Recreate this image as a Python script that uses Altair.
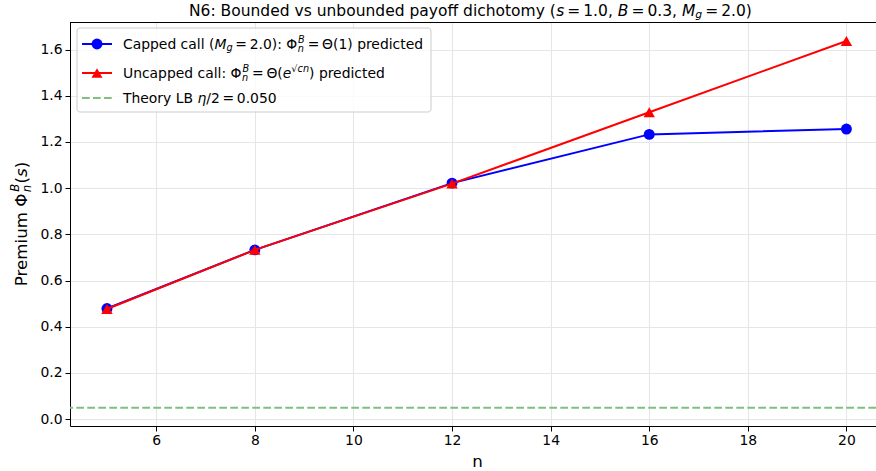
import altair as alt
import pandas as pd

# ---- data ----
n_values = [5, 8, 12, 16, 20]
capped_premium = [0.479, 0.733, 1.022, 1.233, 1.256]
uncapped_premium = [0.477, 0.733, 1.020, 1.329, 1.637]
theory_lb = [0.05]
x_ticks = [6, 8, 10, 12, 14, 16, 18, 20]
y_ticks = [0.0, 0.2, 0.4, 0.6, 0.8, 1.0, 1.2, 1.4, 1.6]

# rich-text pieces: (text, kind)   kind: rm, it, sub, sup, subsup, rel
title_parts = [
    ("N6: Bounded vs unbounded payoff dichotomy (", "rm"),
    ("s", "it"), ("=", "rel"), ("1.0", "rm"), (", ", "rm"),
    ("B", "it"), ("=", "rel"), ("0.3", "rm"), (", ", "rm"),
    ("M", "it"), ("g", "subit"), ("=", "rel"), ("2.0", "rm"), (")", "rm"),
]
legend_parts = [
    [("Capped call (", "rm"), ("M", "it"), ("g", "subit"), ("=", "rel"), ("2.0", "rm"),
     ("): Φ", "rm"), (("n", "B"), "subsup"), ("=", "rel"), ("Θ(1) predicted", "rm")],
    [("Uncapped call: Φ", "rm"), (("n", "B"), "subsup"), ("=", "rel"), ("Θ(", "rm"),
     ("e", "it"), ("√cn", "supit"), (") predicted", "rm")],
    [("Theory LB ", "rm"), ("η", "it"), ("/2", "rm"), ("=", "rel"), ("0.050", "rm")],
]
ylabel_parts = [("Premium Φ", "rm"), (("n", "B"), "subsup"), ("(", "rm"), ("s", "it"), (")", "rm")]

FONT = "DejaVu Sans"
W, H = 806, 404
BLUE, RED, GREEN = "#0000ff", "#ff0000", "#80bf80"

# DejaVu Sans advance widths (em)
EM = {
    " ": .318, "(": .390, ")": .390, ",": .318, ".": .318, "/": .337, ":": .337,
    "=": .838, "A": .684, "B": .686, "C": .698, "L": .557, "M": .863, "N": .748,
    "T": .611, "U": .732, "a": .613, "b": .635, "c": .550, "d": .635, "e": .615,
    "f": .352, "g": .635, "h": .634, "i": .278, "l": .278, "m": .974, "n": .634,
    "o": .612, "p": .635, "r": .411, "s": .521, "t": .392, "u": .634, "v": .592,
    "y": .592, "Φ": .820, "Θ": .787, "η": .634, "√": .636,
}
for d in "0123456789":
    EM[d] = .636


def tw(s):
    return sum(EM.get(c, .6) for c in s)


def layout(parts, size):
    """Return list of (text, advance_offset, baseline_shift, fontsize, italic) and total width."""
    out = []
    pos = 0.0
    sc = 0.7 * size
    for text, kind in parts:
        if kind == "rm":
            out.append((text, pos, 0.0, size, False)); pos += tw(text) * size
        elif kind == "it":
            out.append((text, pos, 0.0, size, True)); pos += tw(text) * size
        elif kind == "rel":
            pos += 0.195 * size
            out.append((text, pos, 0.0, size, False)); pos += tw(text) * size
            pos += 0.195 * size
        elif kind == "subit":
            out.append((text, pos, 0.16 * size, sc, True)); pos += tw(text) * sc
        elif kind == "supit":
            out.append((text, pos, -0.42 * size, sc, True)); pos += tw(text) * sc
        elif kind == "subsup":
            sub, sup = text
            out.append((sub, pos, 0.24 * size, sc, True))
            out.append((sup, pos + 0.03 * size, -0.45 * size, sc, True))
            pos += max(tw(sub), tw(sup)) * sc + 0.05 * size
    return out, pos


def rich_text(parts, size, x0, y0, vertical=False):
    pieces, total = layout(parts, size)
    layers = []
    for text, off, shift, fs, ital in pieces:
        kw = dict(align="left", baseline="alphabetic", font=FONT, fontSize=fs, color="black")
        if ital:
            kw["fontStyle"] = "italic"
        if vertical:
            kw["angle"] = 270
            xpos, ypos = x0 + shift, y0 - off
        else:
            xpos, ypos = x0 + off, y0 + shift
        layers.append(
            alt.Chart(pd.DataFrame({"t": [text]})).mark_text(**kw).encode(
                x=alt.value(xpos), y=alt.value(ypos), text="t:N"
            )
        )
    return layers, total


cap_df = pd.DataFrame({"n": n_values, "premium": capped_premium})
unc_df = pd.DataFrame({"n": n_values, "premium": uncapped_premium})
lb_df = pd.DataFrame({"premium": theory_lb})

xscale = alt.Scale(domain=[4.25, 20.6], nice=False, zero=False)
yscale = alt.Scale(domain=[-0.0295, 1.7195], nice=False, zero=False)

x_enc = alt.X(
    "n:Q", scale=xscale,
    axis=alt.Axis(values=x_ticks, format="d", title="n",
                  titleX=407, titleY=40, titleBaseline="alphabetic",
                  titleAlign="center", labelPadding=2),
)
y_enc = alt.Y(
    "premium:Q", scale=yscale,
    axis=alt.Axis(values=y_ticks, format=".1f", title=None, labelPadding=3),
)

lb = alt.Chart(lb_df).mark_rule(color=GREEN, strokeWidth=2, strokeDash=[7.7, 3.3]).encode(
    y=alt.Y("premium:Q", scale=yscale)
)

cap_line = alt.Chart(cap_df).mark_line(color=BLUE, strokeWidth=2).encode(x=x_enc, y=y_enc)
cap_pts = alt.Chart(cap_df).mark_point(
    shape="circle", filled=True, color=BLUE, size=120, opacity=1
).encode(x=alt.X("n:Q", scale=xscale), y=alt.Y("premium:Q", scale=yscale))
unc_line = alt.Chart(unc_df).mark_line(color=RED, strokeWidth=2).encode(
    x=alt.X("n:Q", scale=xscale), y=alt.Y("premium:Q", scale=yscale)
)
unc_pts = alt.Chart(unc_df).mark_point(
    shape="triangle-up", filled=True, color=RED, size=130, opacity=1
).encode(x=alt.X("n:Q", scale=xscale), y=alt.Y("premium:Q", scale=yscale))

one = pd.DataFrame({"k": [0]})
top_frame = alt.Chart(one).mark_rule(color="black", strokeWidth=1).encode(
    x=alt.value(0), x2=alt.value(W), y=alt.value(0.5)
)

# ---- manual legend ----
leg_box = alt.Chart(one).mark_rect(
    fill="white", fillOpacity=0.8, stroke="#cccccc", strokeWidth=1, cornerRadius=3
).encode(x=alt.value(7), x2=alt.value(361), y=alt.value(6), y2=alt.value(90))

rows_y = [22, 51, 76]
leg_layers = [leg_box]
styles = [
    (BLUE, "circle", None),
    (RED, "triangle-up", None),
    (GREEN, None, [7.7, 3.3]),
]
for i, (col, shape, dash) in enumerate(styles):
    rule_kwargs = dict(color=col, strokeWidth=2)
    if dash:
        rule_kwargs["strokeDash"] = dash
    leg_layers.append(
        alt.Chart(one).mark_rule(**rule_kwargs).encode(
            x=alt.value(12), x2=alt.value(42), y=alt.value(rows_y[i])
        )
    )
    if shape:
        leg_layers.append(
            alt.Chart(one).mark_point(shape=shape, filled=True, color=col,
                                      size=120, opacity=1).encode(
                x=alt.value(27), y=alt.value(rows_y[i])
            )
        )
    txt, _ = rich_text(legend_parts[i], 13.9, 53, rows_y[i] + 5)
    leg_layers += txt

# ---- title and y label as rich text ----
title_layers, _ = rich_text(title_parts, 15.5, 119, -6.5)
_, ylab_w = layout(ylabel_parts, 16.7)
ylab_layers, _ = rich_text(ylabel_parts, 16.7, -43, H / 2 + ylab_w / 2, vertical=True)

chart = alt.layer(
    cap_line, lb, cap_pts, unc_line, unc_pts, top_frame,
    *leg_layers, *title_layers, *ylab_layers
).properties(
    width=W, height=H,
    autosize=alt.AutoSizeParams(type="none"),
    padding={"left": 70, "top": 22, "right": 0, "bottom": 45},
).configure_view(
    stroke=None
).configure_axis(
    labelFont=FONT, labelFontSize=13.9, labelColor="black",
    titleFont=FONT, titleFontSize=16.7, titleFontWeight="normal", titleColor="black",
    tickColor="black", tickSize=5, tickWidth=1,
    domainColor="black", domainWidth=1,
    gridColor="#e6e6e6", gridWidth=1.1,
)

chart.save("out.html", embed_options={"renderer": "svg", "actions": False})
